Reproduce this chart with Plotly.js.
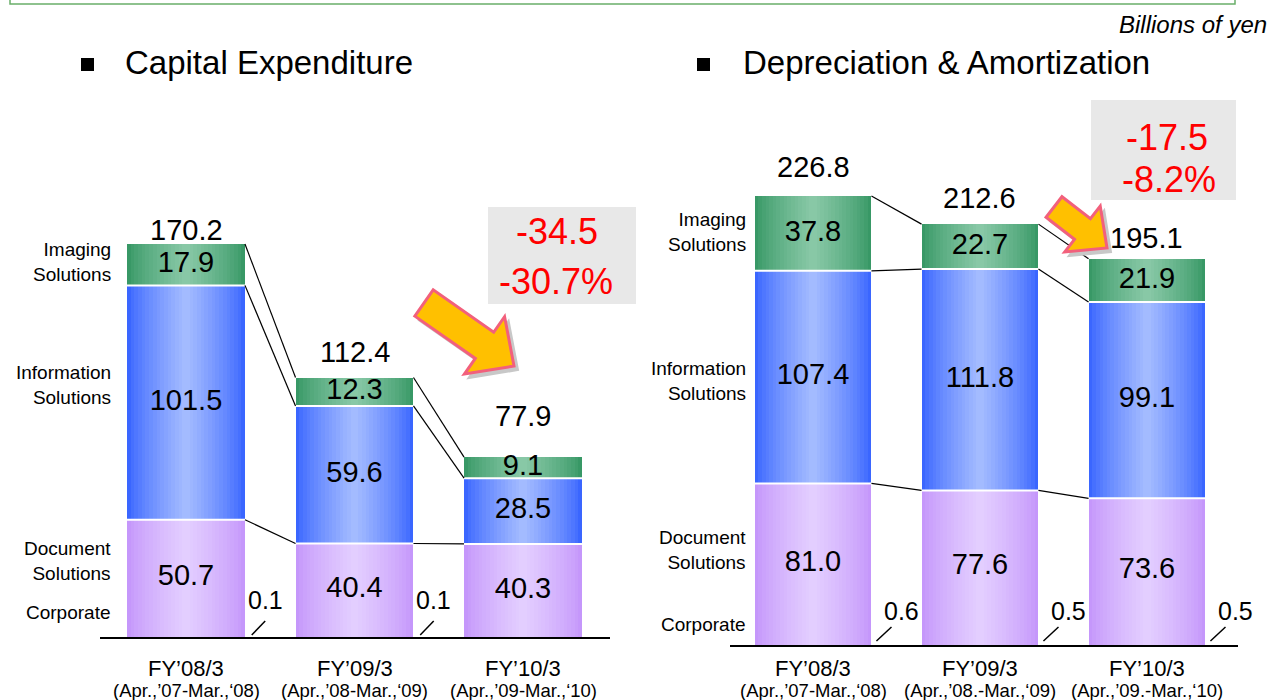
<!DOCTYPE html>
<html>
<head>
<meta charset="utf-8">
<script src="https://cdn.plot.ly/plotly-3.0.1.min.js"></script>
<style>html,body{margin:0;padding:0;background:#fff;}#chart{width:1276px;height:700px;}</style>
</head>
<body>
<div id="chart"></div>
<script>
// ---------- DATA ----------
const categories = ["FY’08/3", "FY’09/3", "FY’10/3"];
const capexPeriods = ["(Apr.,’07-Mar.,‘08)", "(Apr.,’08-Mar.,‘09)", "(Apr.,’09-Mar.,‘10)"];
const daPeriods = ["(Apr.,’07-Mar.,‘08)", "(Apr.,’08.-Mar.,‘09)", "(Apr.,’09.-Mar.,‘10)"];
const segmentNames = ["Corporate", "Document<br>Solutions", "Information<br>Solutions", "Imaging<br>Solutions"];

const capexCorporate = [0.1, 0.1, null];
const capexDocument = [50.7, 40.4, 40.3];
const capexInformation = [101.5, 59.6, 28.5];
const capexImaging = [17.9, 12.3, 9.1];
const capexTotal = [170.2, 112.4, 77.9];
const capexChange = ["-34.5", "-30.7%"];

const daCorporate = [0.6, 0.5, 0.5];
const daDocument = [81.0, 77.6, 73.6];
const daInformation = [107.4, 111.8, 99.1];
const daImaging = [37.8, 22.7, 21.9];
const daTotal = [226.8, 212.6, 195.1];
const daChange = ["-17.5", "-8.2%"];

// ---------- STYLE ----------
const W = 1276, H = 700;
const FONT = "Liberation Sans, Arial, sans-serif";
const BW = 0.70;     // bar width in category units
const K = 16;        // gradient layers
const segColors = [
  ["#c597fb", "#e3ceff"],  // corporate
  ["#c597fb", "#e3ceff"],  // document
  ["#3a66ff", "#a3bbff"],  // information
  ["#389866", "#88c8a6"]   // imaging
];
const capexTotalLift = [14, 25, 41];   // px above bar top (label placement)
const daTotalLift = [29, 26, 21];
const leftRowY = [612, 561, 385, 262];   // row-label centres (px), by segment
const rightRowY = [624, 550, 381, 232];
const X = (x) => x / W;
const Y = (y) => 1 - y / H;

function hex2rgb(h){ return [1,3,5].map(i => parseInt(h.substr(i,2),16)); }
function mix(a, b, t){
  const A = hex2rgb(a), B = hex2rgb(b);
  const c = A.map((v,i) => Math.round(v + (B[i]-v)*t));
  return `rgb(${c[0]},${c[1]},${c[2]})`;
}

const traces = [];
const annotations = [];
const shapes = [];
const idx = categories.map((_, i) => i);

function addChart(xa, ya, segs, totals, lift){
  const n = idx.length;
  const bases = [];
  let cum = idx.map(() => 0);
  segs.forEach(seg => { bases.push(cum.slice()); cum = cum.map((c,i) => c + (seg[i] || 0)); });
  const tops = cum;
  // gradient bars
  segs.forEach((seg, s) => {
    for (let k = 0; k < K; k++){
      const t = k / (K - 1);
      traces.push({
        type: "bar", x: idx, y: seg, base: bases[s], width: BW * (1 - k / K),
        marker: {color: mix(segColors[s][0], segColors[s][1], Math.pow(t, 0.8)), line: {width: 0}},
        xaxis: xa, yaxis: ya, hoverinfo: "skip", showlegend: false, name: segmentNames[s]
      });
    }
  });
  // white separators between segments
  const sx = [], sy = [];
  [2, 3].forEach(s => idx.forEach(i => { sx.push(i - BW/2, i + BW/2, null); sy.push(bases[s][i], bases[s][i], null); }));
  traces.push({type: "scatter", mode: "lines", x: sx, y: sy, line: {color: "#ffffff", width: 2},
    xaxis: xa, yaxis: ya, hoverinfo: "skip", showlegend: false});
  // connectors
  const cx = [], cy = [];
  const levels = [bases[2], bases[3], tops];
  levels.forEach(lv => { for (let i = 0; i < n - 1; i++){ cx.push(i + BW/2, i + 1 - BW/2, null); cy.push(lv[i], lv[i+1], null); } });
  traces.push({type: "scatter", mode: "lines", x: cx, y: cy, line: {color: "#000000", width: 1.2},
    xaxis: xa, yaxis: ya, hoverinfo: "skip", showlegend: false});
  // segment values
  [1, 2, 3].forEach(s => {
    traces.push({type: "scatter", mode: "text", x: idx, y: idx.map(i => bases[s][i] + segs[s][i] / 2),
      text: segs[s].map(v => v.toFixed(1)), textposition: "middle center",
      textfont: {family: FONT, size: 29, color: "#000"}, xaxis: xa, yaxis: ya, hoverinfo: "skip", showlegend: false});
  });
  // totals
  idx.forEach(i => {
    annotations.push({text: totals[i].toFixed(1), x: i, y: tops[i], xref: xa, yref: ya, showarrow: false,
      yanchor: "middle", yshift: lift[i], font: {family: FONT, size: 29, color: "#000"}});
  });
}

addChart("x", "y", [capexCorporate, capexDocument, capexInformation, capexImaging], capexTotal, capexTotalLift);
addChart("x2", "y2", [daCorporate, daDocument, daInformation, daImaging], daTotal, daTotalLift);

// ---------- ANNOTATIONS & SHAPES ----------
function txt(text, x, y, size, opts){
  annotations.push(Object.assign({text: text, x: X(x), y: Y(y), xref: "paper", yref: "paper",
    showarrow: false, font: {family: FONT, size: size, color: "#000"}, xanchor: "center", yanchor: "middle"}, opts || {}));
}

// top green frame + unit note
shapes.push({type: "rect", xref: "paper", yref: "paper", x0: X(10), x1: X(1235), y0: Y(4), y1: Y(-20),
  line: {color: "#6aae6a", width: 1.5}, fillcolor: "rgba(0,0,0,0)"});
txt("<i>Billions of yen</i>", 1269, 25, 24, {xanchor: "right"});

// titles
shapes.push({type: "rect", xref: "paper", yref: "paper", x0: X(81), x1: X(94), y0: Y(71), y1: Y(58), fillcolor: "#000", line: {width: 0}});
shapes.push({type: "rect", xref: "paper", yref: "paper", x0: X(697), x1: X(710), y0: Y(71), y1: Y(58), fillcolor: "#000", line: {width: 0}});
txt("Capital Expenditure", 123, 63, 33, {xanchor: "left"});
txt("Depreciation & Amortization", 741, 63, 33, {xanchor: "left"});

// row labels
segmentNames.forEach((name, s) => {
  txt(name, 113, leftRowY[s], 19, {xanchor: "right", align: "right"});
  txt(name, 748, rightRowY[s], 19, {xanchor: "right", align: "right"});
});

// category labels
idx.forEach(i => {
  annotations.push({text: categories[i], x: i, xref: "x", y: Y(668), yref: "paper", showarrow: false,
    font: {family: FONT, size: 22, color: "#000"}, yanchor: "middle"});
  annotations.push({text: capexPeriods[i], x: i, xref: "x", y: Y(690), yref: "paper", showarrow: false,
    font: {family: FONT, size: 18.5, color: "#000"}, yanchor: "middle"});
  annotations.push({text: categories[i], x: i, xref: "x2", y: Y(668), yref: "paper", showarrow: false,
    font: {family: FONT, size: 22, color: "#000"}, yanchor: "middle"});
  annotations.push({text: daPeriods[i], x: i, xref: "x2", y: Y(690), yref: "paper", showarrow: false,
    font: {family: FONT, size: 18.5, color: "#000"}, yanchor: "middle"});
});

// corporate callouts
idx.forEach(i => {
  if (capexCorporate[i] != null){
    annotations.push({text: capexCorporate[i].toFixed(1), x: i + 0.47, xref: "x", y: Y(600), yref: "paper",
      showarrow: false, font: {family: FONT, size: 25, color: "#000"}, yanchor: "middle"});
    shapes.push({type: "line", xref: "x", yref: "paper", x0: i + 0.39, x1: i + 0.47, y0: Y(635), y1: Y(621),
      line: {color: "#000", width: 1.5}});
  }
  if (daCorporate[i] != null){
    annotations.push({text: daCorporate[i].toFixed(1), x: i + 0.53, xref: "x2", y: Y(611), yref: "paper",
      showarrow: false, font: {family: FONT, size: 25, color: "#000"}, yanchor: "middle"});
    shapes.push({type: "line", xref: "x2", yref: "paper", x0: i + 0.38, x1: i + 0.47, y0: Y(641), y1: Y(627),
      line: {color: "#000", width: 1.5}});
  }
});

// change boxes
shapes.push({type: "rect", xref: "paper", yref: "paper", x0: X(488), x1: X(636), y0: Y(304), y1: Y(207), fillcolor: "#e8e8e8", line: {width: 0}, layer: "below"});
shapes.push({type: "rect", xref: "paper", yref: "paper", x0: X(1091), x1: X(1236), y0: Y(200), y1: Y(100), fillcolor: "#e8e8e8", line: {width: 0}, layer: "below"});
const redFont = {family: FONT, size: 36, color: "#ff0000"};
txt(capexChange[0], 557, 231, 36, {font: redFont});
txt(capexChange[1], 556, 281, 36, {font: redFont});
txt(daChange[0], 1167, 137, 36, {font: redFont});
txt(daChange[1], 1169, 180, 36, {font: redFont});

// block arrows
function arrowPath(tx, ty, px_, py_, s, h, L, dx, dy){
  const len = Math.hypot(px_ - tx, py_ - ty);
  const ux = (px_ - tx) / len, uy = (py_ - ty) / len;
  const nx = -uy, ny = ux;
  const bx = px_ - ux * L, by = py_ - uy * L;
  const pts = [
    [tx + nx*s, ty + ny*s], [bx + nx*s, by + ny*s], [bx + nx*h, by + ny*h], [px_, py_],
    [bx - nx*h, by - ny*h], [bx - nx*s, by - ny*s], [tx - nx*s, ty - ny*s]
  ];
  return "M " + pts.map(p => X(p[0] + dx).toFixed(5) + "," + Y(p[1] + dy).toFixed(5)).join(" L ") + " Z";
}
function addArrow(tx, ty, px_, py_, s, h, L){
  shapes.push({type: "path", xref: "paper", yref: "paper", path: arrowPath(tx, ty, px_, py_, s, h, L, 4, 4),
    fillcolor: "#c8c8c8", line: {color: "#c8c8c8", width: 2}});
  shapes.push({type: "path", xref: "paper", yref: "paper", path: arrowPath(tx, ty, px_, py_, s, h, L, 0, 0),
    fillcolor: "#ffc000", line: {color: "#f2607c", width: 3}});
}
addArrow(424, 303, 514, 366, 16, 35, 36);
addArrow(1054, 207, 1107, 248, 13, 29, 31);

const axBase = {showgrid: false, zeroline: false, showticklabels: false, ticks: ""};
const layout = {
  width: W, height: H,
  margin: {l: 0, r: 0, t: 0, b: 0},
  paper_bgcolor: "#ffffff", plot_bgcolor: "rgba(0,0,0,0)",
  barmode: "overlay", bargap: 0,
  showlegend: false,
  xaxis: Object.assign({}, axBase, {domain: [X(100), X(610)], range: [-0.5104, 2.5163], showline: true, linecolor: "#000", linewidth: 1.5, anchor: "y"}),
  yaxis: Object.assign({}, axBase, {domain: [(700 - 637) / 700, Y(100)], range: [0, 232.6], anchor: "x"}),
  xaxis2: Object.assign({}, axBase, {domain: [X(730), X(1238)], range: [-0.497, 2.545], showline: true, linecolor: "#000", linewidth: 1.5, anchor: "y2"}),
  yaxis2: Object.assign({}, axBase, {domain: [(700 - 645) / 700, Y(100)], range: [0, 275.3], anchor: "x2"}),
  annotations: annotations,
  shapes: shapes
};

Plotly.newPlot("chart", traces, layout, {displayModeBar: false, staticPlot: true});
</script>
</body>
</html>
